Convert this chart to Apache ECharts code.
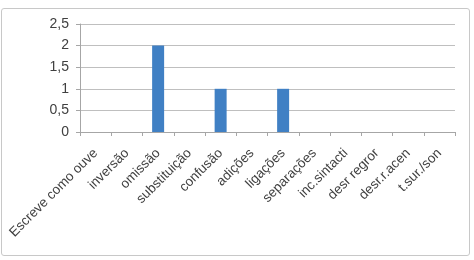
<!DOCTYPE html>
<html><head><meta charset="utf-8">
<script src="https://cdn.jsdelivr.net/npm/echarts@6/dist/echarts.min.js"></script>
<style>html,body{margin:0;padding:0;background:#fff}#c{width:474px;height:260px}
#frame{position:absolute;left:1px;top:8px;width:469px;height:248px;border:1px solid #c8c8c8;border-radius:3px;box-sizing:border-box;pointer-events:none}</style>
</head><body><div id="c"></div><div id="frame"></div>
<script>
const categories = ["Escreve como ouve","inversão","omissão","substituição","confusão","adições","ligações","separações","inc.sintacti","desr regror","desr.r.acen","t.sur./son"];
const values = [0,0,2,0,1,0,1,0,0,0,0,0];
const yTicks = {min:0, max:2.5, interval:0.5};
const chart = echarts.init(document.getElementById('c'), null, {renderer:'canvas'});
const font = "'Liberation Sans', sans-serif";
chart.setOption({
  animation:false,
  grid:{left:80,right:19,top:24,bottom:128,containLabel:false},
  xAxis:{type:'category',data:categories,
    axisLine:{lineStyle:{color:'#a6a6a6'}},
    axisTick:{show:true,alignWithLabel:false,length:4,lineStyle:{color:'#a6a6a6'}},
    axisLabel:{rotate:45,interval:0,margin:19,color:'#404040',fontSize:13.5,fontFamily:font}},
  yAxis:{type:'value',min:yTicks.min,max:yTicks.max,interval:yTicks.interval,
    axisLine:{show:true,lineStyle:{color:'#a6a6a6'}},
    axisTick:{show:true,length:4,lineStyle:{color:'#a6a6a6'}},
    splitLine:{lineStyle:{color:'#bfbfbf'}},
    axisLabel:{color:'#404040',fontSize:14,fontFamily:font,margin:11,
      formatter:v=>String(v).replace('.',',')}},
  series:[{type:'bar',data:values,barWidth:12,itemStyle:{color:'#4080c4'}}]
});
</script></body></html>
